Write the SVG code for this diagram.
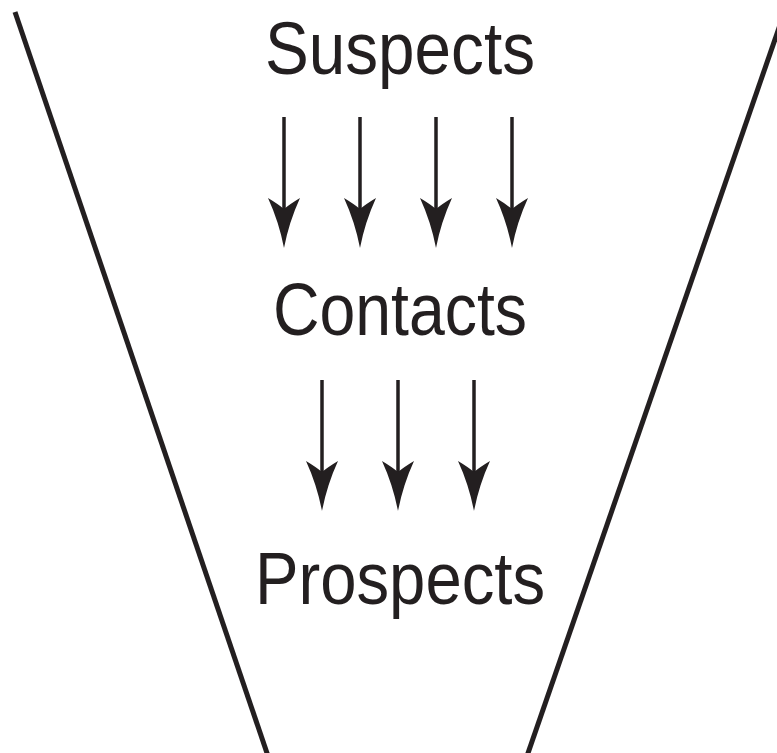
<svg xmlns="http://www.w3.org/2000/svg" width="777" height="753" viewBox="0 0 777 753">
  <style>
    .funnel { fill: none; stroke: #231f20; stroke-width: 5; }
    .label { font-family: "Liberation Sans", Arial, sans-serif; font-size: 74px; fill: #231f20; text-anchor: middle; }
    .shaft { stroke: #231f20; stroke-width: 3.5; fill: none; }
    .head { fill: #231f20; }
  </style>
  <defs>
    <!-- barbed arrowhead, tip at the origin pointing down -->
    <path id="arrowhead" d="M0 0 Q-5 -26 -16 -50 Q-6 -44 0 -39 Q6 -44 16 -50 Q5 -26 0 0 Z"/>
  </defs>
  <rect width="777" height="753" fill="#ffffff"/>

  <!-- funnel sides -->
  <g id="funnel">
    <line class="funnel" x1="15" y1="12" x2="268" y2="756"/>
    <line class="funnel" x1="790" y1="-4" x2="527" y2="756"/>
  </g>

  <g id="suspects">
    <text class="label" x="400" y="74" textLength="270" lengthAdjust="spacingAndGlyphs">Suspects</text>
  </g>
  <g id="contacts">
    <text class="label" x="400" y="335" textLength="254" lengthAdjust="spacingAndGlyphs">Contacts</text>
  </g>
  <g id="prospects">
    <text class="label" x="400" y="604" textLength="290" lengthAdjust="spacingAndGlyphs">Prospects</text>
  </g>

  <g id="connectors">
    <!-- Suspects to Contacts -->
    <line class="shaft" x1="284" y1="117" x2="284" y2="215"/>
    <use href="#arrowhead" class="head" x="284" y="248"/>
    <line class="shaft" x1="360" y1="117" x2="360" y2="215"/>
    <use href="#arrowhead" class="head" x="360" y="248"/>
    <line class="shaft" x1="436" y1="117" x2="436" y2="215"/>
    <use href="#arrowhead" class="head" x="436" y="248"/>
    <line class="shaft" x1="512" y1="117" x2="512" y2="215"/>
    <use href="#arrowhead" class="head" x="512" y="248"/>
    <!-- Contacts to Prospects -->
    <line class="shaft" x1="322" y1="380" x2="322" y2="478"/>
    <use href="#arrowhead" class="head" x="322" y="511"/>
    <line class="shaft" x1="398" y1="380" x2="398" y2="478"/>
    <use href="#arrowhead" class="head" x="398" y="511"/>
    <line class="shaft" x1="474" y1="380" x2="474" y2="478"/>
    <use href="#arrowhead" class="head" x="474" y="511"/>
  </g>
</svg>
